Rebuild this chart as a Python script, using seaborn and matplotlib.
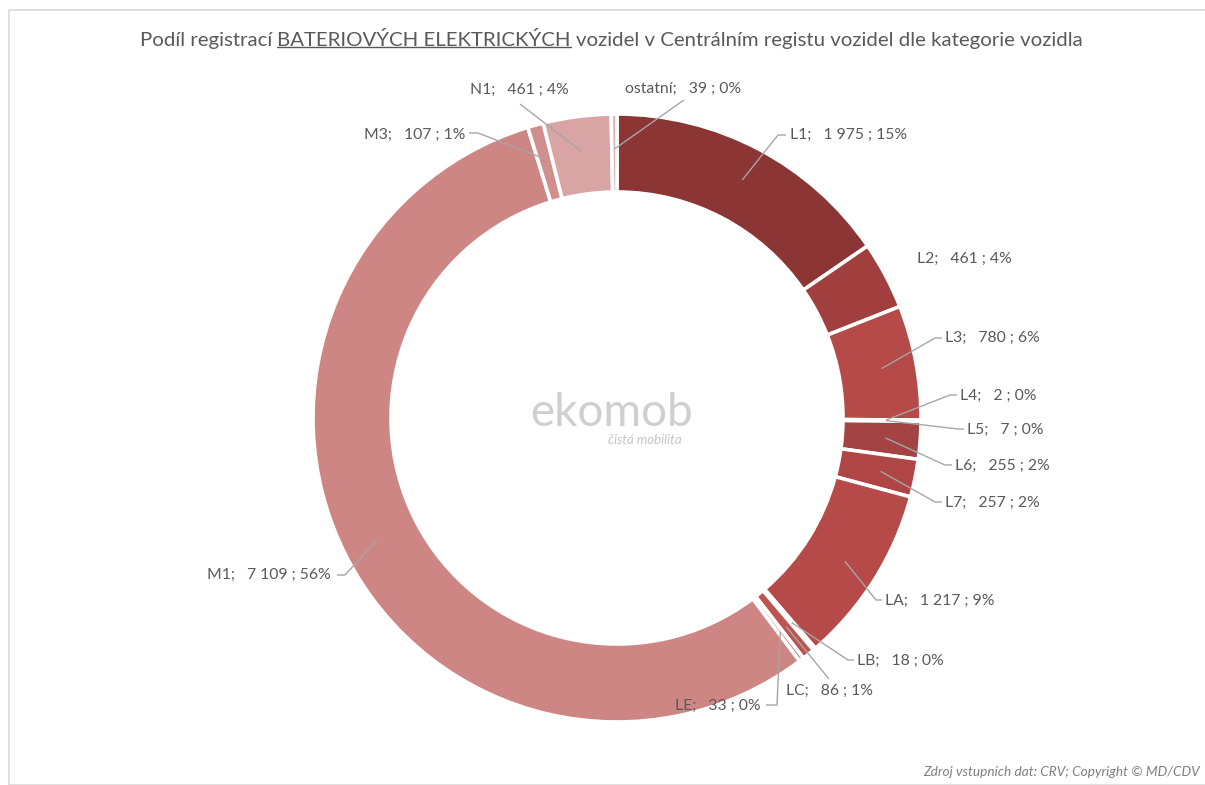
import numpy as np
import matplotlib
matplotlib.use("Agg")
import matplotlib.pyplot as plt
import seaborn as sns

# ---------------- data ----------------
categories = ["L1", "L2", "L3", "L4", "L5", "L6", "L7", "LA", "LB", "LC", "LE",
              "M1", "M3", "N1", "ostatní"]
counts = [1975, 461, 780, 2, 7, 255, 257, 1217, 18, 86, 33, 7109, 107, 461, 39]
count_text = ["1 975", "461", "780", "2", "7", "255", "257", "1 217", "18", "86", "33",
              "7 109", "107", "461", "39"]
pct_text = ["15%", "4%", "6%", "0%", "0%", "2%", "2%", "9%", "0%", "1%", "0%",
            "56%", "1%", "4%", "0%"]

title_parts = ["Podíl registrací", "BATERIOVÝCH ELEKTRICKÝCH",
               "vozidel v Centrálním registu vozidel dle kategorie vozidla"]
footer = "Zdroj vstupních dat: CRV; Copyright © MD/CDV"

# ---------------- styles ----------------
colors = ["#8B3535", "#A13F3E", "#B54A48", "#B54A48", "#B54A48", "#A34343",
          "#B04545", "#B54A48", "#B54A48", "#BE5452", "#CD8584",
          "#CE8684", "#D08E8D", "#D8A4A4", "#DDB2B2"]

# label layout in pixel space: (text x, text y, ha, elbow point or None, line end x)
label_layout = {
    "L1": (790, 135, "left", (778, 135), 786),
    "L2": (917, 259, "left", None, None),
    "L3": (945, 338, "left", (935, 338), 942),
    "L4": (960, 396, "left", (950, 395), 957),
    "L5": (967, 430, "left", (958, 429), 964),
    "L6": (955, 466, "left", (945, 465), 952),
    "L7": (945, 503, "left", (935, 502), 942),
    "LA": (885, 601, "left", (876, 600), 882),
    "LB": (857, 661, "left", (848, 660), 854),
    "LC": (786, 691, "left", (829, 679), None),
    "LE": (761, 706, "right", (777, 705), 766),
    "M1": (331, 575, "right", (345, 575), 337),
    "M3": (465, 135, "right", (478, 133), 469),
    "N1": (470, 90, "left", (520, 104), None),
    "ostatní": (625, 89, "left", (684, 100), None),
}

W, H = 1205, 785
CX, CY = 617, 418
R_OUT, R_IN = 304, 226
GRAY = "#595959"
LINE = "#A6A6A6"

sns.set_theme(style="white")
plt.rcParams["font.family"] = ["Lato", "DejaVu Sans"]

fig = plt.figure(figsize=(W / 100, H / 100), dpi=100)
ax = fig.add_axes([0, 0, 1, 1])
ax.set_xlim(0, W)
ax.set_ylim(0, H)
ax.set_axis_off()


def P(y):
    return H - y


# frame
ax.add_patch(plt.Rectangle((8.5, 0), W, P(9.5), fill=False, edgecolor="#D9D9D9", lw=1.2))

palette = sns.color_palette(colors)
wedges, _ = ax.pie(counts, colors=palette, startangle=90, counterclock=False,
                   center=(CX, P(CY)), radius=R_OUT,
                   wedgeprops=dict(width=R_OUT - R_IN, edgecolor="white", linewidth=2.6))
ax.set_xlim(0, W)
ax.set_ylim(0, H)
ax.set_aspect("equal")

# labels + leader lines
r_anchor = 0.885 * R_OUT
for w, cat, ct, pc in zip(wedges, categories, count_text, pct_text):
    tx, ty, ha, elbow, lend = label_layout[cat]
    ang = np.deg2rad((w.theta1 + w.theta2) / 2)
    sx = CX + r_anchor * np.cos(ang)
    sy = P(CY) + r_anchor * np.sin(ang)
    if elbow is not None:
        xs = [sx, elbow[0]]
        ys = [sy, P(elbow[1])]
        if lend is not None:
            xs.append(lend)
            ys.append(P(elbow[1]))
        ax.plot(xs, ys, color=LINE, lw=1.0, solid_capstyle="butt")
    ax.text(tx, P(ty), f"{cat};   {ct} ; {pc}", ha=ha, va="center",
            fontsize=11.3, color=GRAY)

# watermark
ax.text(CX - 5, P(413), "ekomob", ha="center", va="center", fontsize=33,
        color="#CFCFCF")
ax.text(CX + 28, P(440), "čistá mobilita", ha="center", va="center", fontsize=9.5,
        color="#C4C4C4", style="italic")

# title with underlined middle part
FS_T = 14.7
t1 = ax.text(140, P(46), title_parts[0], ha="left", va="baseline", fontsize=FS_T, color=GRAY)
t2 = ax.annotate(title_parts[1], xy=(1, 0), xycoords=t1, xytext=(5, 0),
                 textcoords="offset pixels", ha="left", va="bottom", fontsize=FS_T, color=GRAY)
t3 = ax.annotate(title_parts[2], xy=(1, 0), xycoords=t2, xytext=(5, 0),
                 textcoords="offset pixels", ha="left", va="bottom", fontsize=FS_T, color=GRAY)
fig.canvas.draw()
bb = t2.get_window_extent()
ax.plot([bb.x0, bb.x1], [bb.y0 + 2.5, bb.y0 + 2.5], color=GRAY, lw=1.0)

# footer
ax.text(1200, P(772), footer, ha="right", va="center", fontsize=9.8,
        color="#7F7F7F", style="italic")

fig.savefig("out.png", dpi=100)
